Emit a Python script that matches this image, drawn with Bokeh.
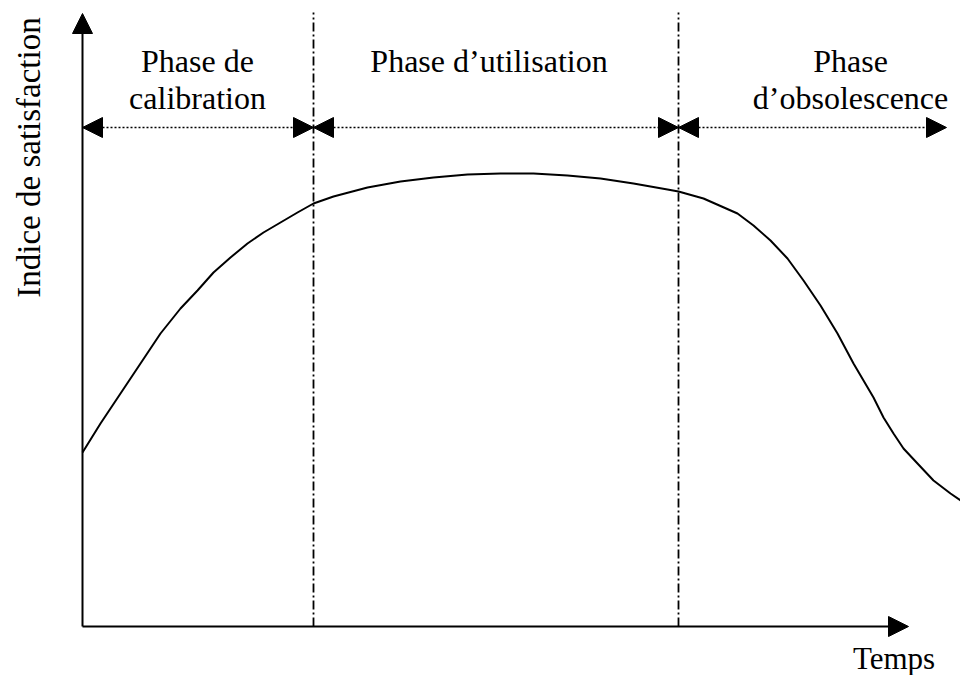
from bokeh.plotting import figure
from bokeh.models import Range1d, Arrow, NormalHead, ColumnDataSource
from bokeh.core.properties import value
from bokeh.embed import file_html
from bokeh.resources import INLINE
import math

# ---- data (time units, satisfaction units) ----
curve_t = [0.0, 1.8, 3.8, 5.8, 7.8, 9.8, 11.5, 13.1, 14.8, 16.5, 18.1, 19.8, 21.5,
           23.1, 25.1, 28.5, 31.8, 35.1, 38.5, 41.8, 45.1, 48.5, 51.8, 55.1, 58.5,
           59.6, 62.1, 65.5, 67.1, 68.8, 70.5, 72.1, 73.8, 75.5, 77.1, 78.1, 79.1,
           80.1, 81.1, 82.1, 83.5, 85.1, 86.8, 88.1, 89.4]
curve_s = [17.4, 20.3, 23.3, 26.3, 29.3, 31.8, 33.6, 35.4, 36.9, 38.3, 39.4, 40.4, 41.4,
           42.3, 43.0, 43.9, 44.5, 44.9, 45.2, 45.3, 45.3, 45.1, 44.8, 44.3, 43.7,
           43.5, 42.8, 41.3, 40.1, 38.6, 36.8, 34.6, 32.1, 29.3, 26.3, 24.6, 22.9,
           20.9, 19.3, 17.8, 16.3, 14.6, 13.3, 12.4, 11.8]

phase_bounds = [23.1, 59.6]          # vertical dash-dot separators
phase_starts = [0.0, 23.1, 59.6]     # double arrows
phase_ends = [23.1, 59.6, 86.4]
arrow_level = 49.9
top_level = 61.4

label_x = [11.5, 11.5, 40.65, 76.8, 76.8]
label_y = [56.6, 52.9, 56.6, 56.6, 52.9]
label_text = ["Phase de", "calibration", "Phase d\u2019utilisation", "Phase", "d\u2019obsolescence"]

x_axis_end = 82.6
y_axis_end = 61.3
x_title = "Temps"
y_title = "Indice de satisfaction"

FONT = value("Liberation Serif")

p = figure(width=960, height=675, output_backend="svg", toolbar_location=None,
           x_axis_type=None, y_axis_type=None, min_border=0,
           x_range=Range1d(-8.2, 87.8), y_range=Range1d(-4.9, 62.6))
p.xgrid.visible = False
p.ygrid.visible = False
p.outline_line_color = None
p.background_fill_color = "white"
p.border_fill_color = "white"

# separators
for b in phase_bounds:
    p.line([b, b], [0, top_level], line_color="black", line_width=1.8, line_dash="9 3 2 3")

# curve
p.line(curve_t, curve_s, line_color="black", line_width=2, line_join="round")

# axes with arrow heads
def head():
    return NormalHead(size=20, fill_color="black", line_color="black", line_width=1)

p.add_layout(Arrow(end=head(), x_start=0, y_start=0, x_end=0, y_end=y_axis_end,
                   line_color="black", line_width=2))
p.add_layout(Arrow(end=head(), x_start=0, y_start=0, x_end=x_axis_end, y_end=0,
                   line_color="black", line_width=2))

# phase double arrows: dotted body + solid heads
for s, e in zip(phase_starts, phase_ends):
    p.line([s, e], [arrow_level, arrow_level], line_color="black",
           line_width=1.5, line_dash="2 2")
    p.add_layout(Arrow(start=head(), end=head(), x_start=s, y_start=arrow_level,
                       x_end=e, y_end=arrow_level, line_alpha=0))

src = ColumnDataSource(dict(x=label_x, y=label_y, t=label_text))
p.text(x="x", y="y", text="t", source=src, text_font=FONT, text_font_size="32px",
       text_align="center", text_baseline="alphabetic", text_color="black")

p.text(x=[81.15], y=[-3.2], text=[x_title], text_font=FONT, text_font_size="31px",
       text_align="center", text_baseline="alphabetic", text_color="black")
p.text(x=[-5.4], y=[46.9], text=[y_title], angle=math.pi / 2, text_font=FONT,
       text_font_size="33px", text_align="center", text_baseline="alphabetic",
       text_color="black")

open("out.html", "w").write(file_html(p, INLINE))
